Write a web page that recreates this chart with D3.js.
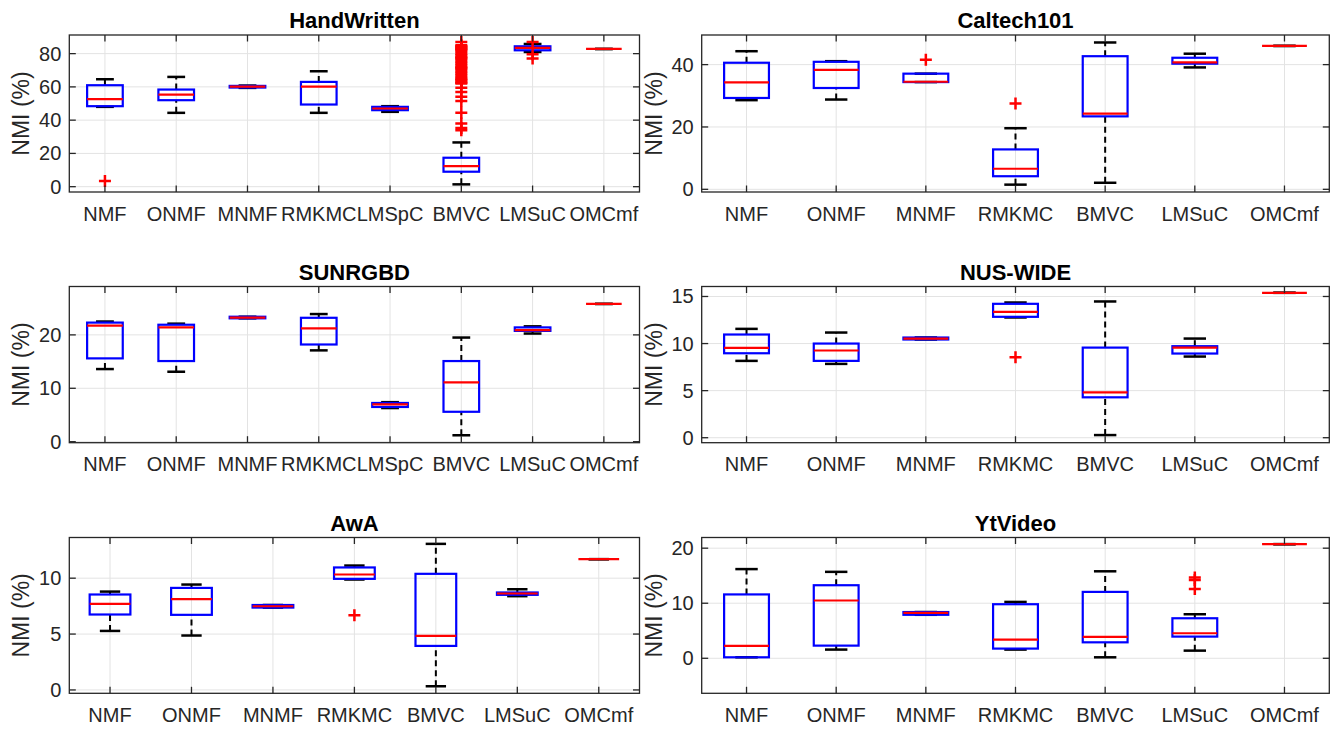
<!DOCTYPE html>
<html>
<head>
<meta charset="utf-8">
<script src="https://cdn.jsdelivr.net/npm/d3@7"></script>
<style>
  body { margin: 0; background: #fff; }
  svg text { font-family: "Liberation Sans", Arial, Helvetica, sans-serif; }
</style>
</head>
<body>
<svg id="chart" width="1338" height="730"></svg>
<script>
const methods8 = ["NMF", "ONMF", "MNMF", "RMKMC", "LMSpC", "BMVC", "LMSuC", "OMCmf"];
const methods7 = ["NMF", "ONMF", "MNMF", "RMKMC", "BMVC", "LMSuC", "OMCmf"];

// each box: [whisker low, q1, median, q3, whisker high]
const handwrittenBoxes = [
  [48.0, 48.4, 52.6, 61.0, 64.6],
  [44.4, 52.0, 55.4, 58.4, 66.0],
  [59.4, 59.6, 60.2, 60.6, 60.8],
  [44.4, 49.4, 60.2, 63.0, 69.4],
  [45.0, 46.0, 47.0, 48.0, 48.4],
  [1.4, 9.0, 12.4, 17.4, 26.6],
  [81.0, 82.0, 83.4, 84.4, 85.8],
  [82.8, 82.8, 82.8, 82.8, 82.8]
];
const handwrittenOutliers = [
  [3.4], [], [], [], [],
  [87, 85, 84.5, 84, 83.5, 83, 82.5, 82, 81, 80, 79, 78, 77.5, 77, 76, 75, 74, 73, 72, 71.5, 71, 70, 69, 68,
   67, 66, 65, 64.5, 64, 63, 62.5, 62, 59.5, 57, 54, 51.5, 44.5, 38, 35.3, 34],
  [87, 79.6, 77],
  []
];

const caltechBoxes = [
  [28.6, 29.3, 34.3, 40.6, 44.3],
  [28.8, 32.5, 38.3, 40.9, 41.1],
  [34.4, 34.4, 34.5, 37.1, 37.1],
  [1.5, 4.2, 6.6, 12.8, 19.6],
  [2.1, 23.4, 24.3, 42.7, 47.1],
  [39.1, 40.3, 40.7, 42.2, 43.5],
  [46.0, 46.0, 46.0, 46.0, 46.0]
];
const caltechOutliers = [[], [], [41.6], [27.5], [], [], []];

const sunrgbdBoxes = [
  [13.6, 15.6, 21.75, 22.3, 22.5],
  [13.1, 15.1, 21.4, 21.9, 22.1],
  [23.1, 23.1, 23.25, 23.4, 23.4],
  [17.1, 18.2, 21.2, 23.2, 23.9],
  [6.3, 6.5, 7.0, 7.25, 7.4],
  [1.2, 5.6, 11.1, 15.1, 19.5],
  [20.25, 20.75, 20.9, 21.4, 21.6],
  [25.8, 25.8, 25.8, 25.8, 25.8]
];
const sunrgbdOutliers = [[], [], [], [], [], [], [], []];

const nuswideBoxes = [
  [8.16, 8.97, 9.54, 10.96, 11.56],
  [7.84, 8.16, 9.26, 10.0, 11.17],
  [10.43, 10.43, 10.53, 10.64, 10.64],
  [12.77, 12.84, 13.37, 14.22, 14.36],
  [0.28, 4.29, 4.82, 9.57, 14.47],
  [8.62, 8.94, 9.57, 9.72, 10.53],
  [15.39, 15.39, 15.39, 15.39, 15.39]
];
const nuswideOutliers = [[], [], [], [8.55], [], [], []];

const awaBoxes = [
  [5.28, 6.75, 7.7, 8.54, 8.8],
  [4.87, 6.72, 8.12, 9.13, 9.43],
  [7.37, 7.37, 7.49, 7.6, 7.6],
  [9.88, 9.94, 10.33, 10.96, 11.13],
  [0.33, 3.94, 4.84, 10.39, 13.07],
  [8.39, 8.51, 8.63, 8.72, 9.01],
  [11.7, 11.7, 11.7, 11.7, 11.7]
];
const awaOutliers = [[], [], [], [6.69], [], [], []];

const ytvideoBoxes = [
  [0.18, 0.18, 2.24, 11.6, 16.2],
  [1.58, 2.3, 10.5, 13.27, 15.7],
  [7.9, 7.9, 8.24, 8.4, 8.4],
  [1.58, 1.76, 3.39, 9.82, 10.24],
  [0.18, 2.9, 3.88, 12.06, 15.8],
  [1.39, 3.94, 4.55, 7.27, 8.0],
  [20.73, 20.73, 20.73, 20.73, 20.73]
];
const ytvideoOutliers = [[], [], [], [], [], [14.67, 14.24, 12.6], []];

const handwrittenTicks = [0, 20, 40, 60, 80];
const caltechTicks = [0, 20, 40];
const sunrgbdTicks = [0, 10, 20];
const nuswideTicks = [0, 5, 10, 15];
const awaTicks = [0, 5, 10];
const ytvideoTicks = [0, 10, 20];

const panels = [
  { title: "HandWritten", methods: methods8, boxes: handwrittenBoxes, outliers: handwrittenOutliers, ticks: handwrittenTicks, yDomain: [-3.2, 91.2], col: 0, row: 0 },
  { title: "Caltech101", methods: methods7, boxes: caltechBoxes, outliers: caltechOutliers, ticks: caltechTicks, yDomain: [-0.86, 49.5], col: 1, row: 0 },
  { title: "SUNRGBD", methods: methods8, boxes: sunrgbdBoxes, outliers: sunrgbdOutliers, ticks: sunrgbdTicks, yDomain: [-0.19, 29.06], col: 0, row: 1 },
  { title: "NUS-WIDE", methods: methods7, boxes: nuswideBoxes, outliers: nuswideOutliers, ticks: nuswideTicks, yDomain: [-0.53, 16.06], col: 1, row: 1 },
  { title: "AwA", methods: methods7, boxes: awaBoxes, outliers: awaOutliers, ticks: awaTicks, yDomain: [-0.3, 13.64], col: 0, row: 2 },
  { title: "YtVideo", methods: methods7, boxes: ytvideoBoxes, outliers: ytvideoOutliers, ticks: ytvideoTicks, yDomain: [-6.36, 21.94], col: 1, row: 2 }
];

// layout of the plot boxes
const colX = [[69.3, 639.5], [701.7, 1329.3]];
const rowY = [[35, 192], [286.5, 442.7], [537.5, 693.3]];

const axisColor = "#262626";
const gridColor = "#e3e3e3";
const tickLen = 6.5;

const svg = d3.select("#chart");

panels.forEach(p => {
    const [x0, x1] = colX[p.col];
    const [y0, y1] = rowY[p.row];
    const n = p.methods.length;

    const x = d3.scaleLinear().domain([0.5, n + 0.5]).range([x0, x1]);
    const y = d3.scaleLinear().domain(p.yDomain).range([y1, y0]);
    const step = x(2) - x(1);
    const boxW = step * 0.5;
    const capW = step * 0.25;

    const g = svg.append("g");

    // Grid
    g.append("g").selectAll("line")
        .data(p.methods)
        .enter().append("line")
        .attr("x1", (d, i) => x(i + 1)).attr("x2", (d, i) => x(i + 1))
        .attr("y1", y0).attr("y2", y1)
        .attr("stroke", gridColor).attr("stroke-width", 1);

    g.append("g").selectAll("line")
        .data(p.ticks)
        .enter().append("line")
        .attr("x1", x0).attr("x2", x1)
        .attr("y1", d => y(d)).attr("y2", d => y(d))
        .attr("stroke", gridColor).attr("stroke-width", 1);

    // Boxes
    const box = g.append("g").selectAll("g")
        .data(p.boxes)
        .enter().append("g");

    // whiskers
    box.append("line")
        .attr("x1", (d, i) => x(i + 1)).attr("x2", (d, i) => x(i + 1))
        .attr("y1", d => y(d[3])).attr("y2", d => y(d[4]))
        .attr("stroke", "#000").attr("stroke-width", 2)
        .attr("stroke-dasharray", "6,4");
    box.append("line")
        .attr("x1", (d, i) => x(i + 1)).attr("x2", (d, i) => x(i + 1))
        .attr("y1", d => y(d[0])).attr("y2", d => y(d[1]))
        .attr("stroke", "#000").attr("stroke-width", 2)
        .attr("stroke-dasharray", "6,4");

    // caps
    [0, 4].forEach(k => {
        box.append("line")
            .attr("x1", (d, i) => x(i + 1) - capW / 2).attr("x2", (d, i) => x(i + 1) + capW / 2)
            .attr("y1", d => y(d[k])).attr("y2", d => y(d[k]))
            .attr("stroke", "#000").attr("stroke-width", 2.5);
    });

    // box outline
    box.append("rect")
        .attr("x", (d, i) => x(i + 1) - boxW / 2)
        .attr("y", d => y(d[3]))
        .attr("width", boxW)
        .attr("height", d => Math.max(0, y(d[1]) - y(d[3])))
        .attr("fill", "none")
        .attr("stroke", "#0000ff").attr("stroke-width", 2.2);

    // median
    box.append("line")
        .attr("x1", (d, i) => x(i + 1) - boxW / 2).attr("x2", (d, i) => x(i + 1) + boxW / 2)
        .attr("y1", d => y(d[2])).attr("y2", d => y(d[2]))
        .attr("stroke", "#ff0000").attr("stroke-width", 2.2);

    // outliers
    const pts = [];
    p.outliers.forEach((arr, i) => arr.forEach(v => pts.push({ i, v })));
    g.append("g").selectAll("path")
        .data(pts)
        .enter().append("path")
        .attr("d", d => {
            const cx = x(d.i + 1), cy = y(d.v), r = 6;
            return `M${cx - r},${cy}H${cx + r}M${cx},${cy - r}V${cy + r}`;
        })
        .attr("stroke", "#ff0000").attr("stroke-width", 2.5).attr("fill", "none");

    // Axis box
    g.append("rect")
        .attr("x", x0).attr("y", y0)
        .attr("width", x1 - x0).attr("height", y1 - y0)
        .attr("fill", "none").attr("stroke", axisColor).attr("stroke-width", 1.3);

    // ticks (inward, all sides)
    const tk = g.append("g").attr("stroke", axisColor).attr("stroke-width", 1.3);
    p.methods.forEach((m, i) => {
        tk.append("line").attr("x1", x(i + 1)).attr("x2", x(i + 1)).attr("y1", y1).attr("y2", y1 - tickLen);
        tk.append("line").attr("x1", x(i + 1)).attr("x2", x(i + 1)).attr("y1", y0).attr("y2", y0 + tickLen);
    });
    p.ticks.forEach(t => {
        tk.append("line").attr("x1", x0).attr("x2", x0 + tickLen).attr("y1", y(t)).attr("y2", y(t));
        tk.append("line").attr("x1", x1).attr("x2", x1 - tickLen).attr("y1", y(t)).attr("y2", y(t));
    });

    // tick labels
    g.append("g").selectAll("text")
        .data(p.ticks)
        .enter().append("text")
        .attr("x", x0 - 8)
        .attr("y", d => y(d) + 7)
        .attr("text-anchor", "end")
        .attr("font-size", 20)
        .attr("fill", axisColor)
        .text(d => d);

    g.append("g").selectAll("text")
        .data(p.methods)
        .enter().append("text")
        .attr("x", (d, i) => x(i + 1))
        .attr("y", y1 + 28.5)
        .attr("text-anchor", "middle")
        .attr("font-size", 20)
        .attr("fill", axisColor)
        .text(d => d);

    // title
    g.append("text")
        .attr("x", (x0 + x1) / 2)
        .attr("y", y0 - 7)
        .attr("text-anchor", "middle")
        .attr("font-size", 22)
        .attr("font-weight", "bold")
        .attr("fill", "#000")
        .text(p.title);

    // y label
    g.append("text")
        .attr("transform", `translate(${x0 - 40},${(y0 + y1) / 2}) rotate(-90)`)
        .attr("text-anchor", "middle")
        .attr("font-size", 23)
        .attr("fill", axisColor)
        .text("NMI (%)");
});
</script>
</body>
</html>
